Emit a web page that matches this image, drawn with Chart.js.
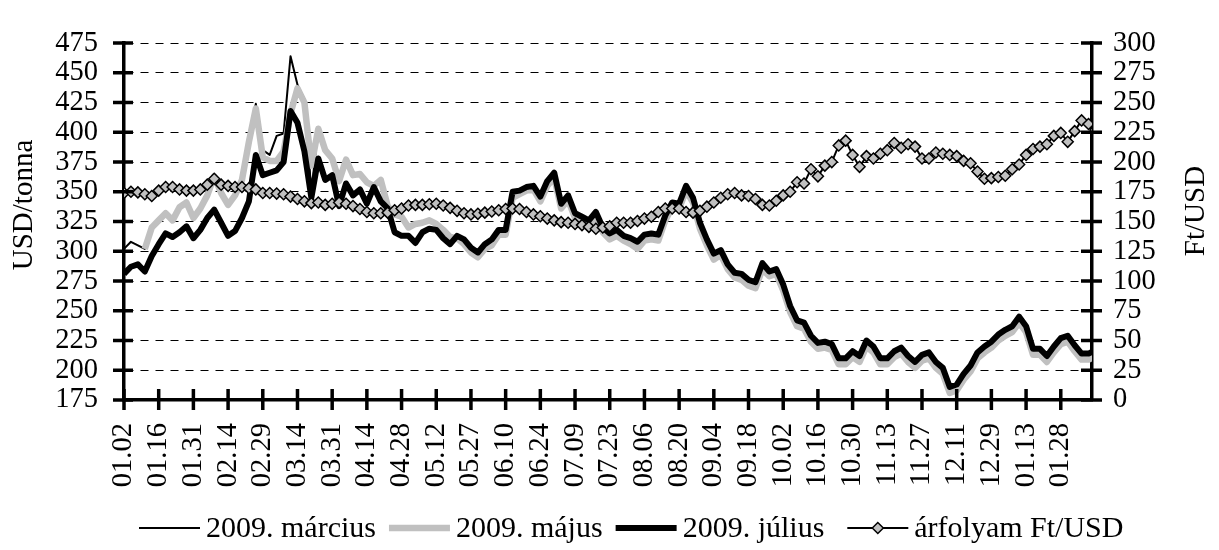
<!DOCTYPE html>
<html>
<head>
<meta charset="utf-8">
<script src="https://cdn.jsdelivr.net/npm/chart.js@4.4.1/dist/chart.umd.min.js"></script>
<style>
html,body{margin:0;padding:0;background:#fff;}
canvas{display:block;}
</style>
</head>
<body>
<canvas id="c" width="1219" height="550"></canvas>
<script>
// ---- data (one value every 2nd trading day, 2008-01-02 .. 2009-02) ----
const tickLabels = ['01.02','01.16','01.31','02.14','02.29','03.14','03.31','04.14','04.28','05.12',
  '05.27','06.10','06.24','07.09','07.23','08.06','08.20','09.04','09.18','10.02',
  '10.16','10.30','11.13','11.27','12.11','12.29','01.13','01.28'];
const labelEvery = 10; // trading days between tick labels
const sampleStep = 2;  // trading days between stored values
const seriesNames = ['2009. március','2009. május','2009. július','árfolyam Ft/USD'];

const marcius = [
  302,308,305,302,320,326,332,326,337,341,
  328,336,347,363,349,339,347,360,392,424,
  385,381,397,399,464,440,428,350,404,386,
  378,359,377,364,365,358,355,360,338,331,
  329,320,323,324,326,323,318,312,313,310,
  303,299,306,310,318,318,350,351,354,355,
  346,359,366,340,347,332,329,326,333,320,
  315,318,313,311,308,314,315,314,330,341,
  340,355,345,324,310,298,301,289,282,281,
  276,274,290,283,285,272,254,242,240,229,
  223,224,222,210,210,216,212,225,220,210,
  210,216,219,212,207,213,215,207,202,186,
  188,197,204,215,220,224,230,234,237,245,
  237,218,218,212,220,227,229,221,214,214,
  217];

const majus = [
  null,null,null,302,320,326,332,326,337,341,
  328,336,347,363,349,339,347,360,392,420,
  379,376,376,384,416,437,425,372,403,385,
  378,359,377,364,365,358,355,360,338,331,
  329,320,323,324,326,323,318,312,311,306,
  299,295,302,305,314,314,345,348,351,352,
  342,355,362,336,343,328,325,322,329,316,
  310,313,309,306,302,309,310,309,326,337,
  336,351,341,319,305,293,297,285,278,276,
  271,269,285,279,281,267,249,237,235,224,
  218,219,217,205,205,211,207,220,215,205,
  205,211,214,207,202,208,210,202,197,181,
  183,192,199,210,215,219,225,229,232,240,
  232,213,213,207,215,222,224,216,209,209,
  212];

const julius = [
  281,287,289,283,296,306,315,312,316,321,
  311,318,328,335,324,313,317,328,342,381,
  364,366,368,375,418,408,384,345,378,360,
  364,338,357,347,352,340,354,342,336,316,
  313,313,307,316,319,318,311,306,313,310,
  303,299,306,310,318,318,350,351,354,355,
  346,359,366,340,347,332,329,326,333,320,
  315,318,313,311,308,314,315,314,330,341,
  340,355,345,324,310,298,301,289,282,281,
  276,274,290,283,285,272,254,242,240,229,
  223,224,222,210,210,216,212,225,220,210,
  210,216,219,212,207,213,215,207,202,186,
  188,197,204,215,220,224,230,234,237,245,
  237,218,218,212,220,227,229,221,214,214,
  217];

const arfolyam = [
  174,175,174.5,173,171.5,176,179,179,177,176,
  176,177,181,186,181,180,179,179,178,177,
  174,174,173.5,173,171,169,167,165.5,166,164,
  165,166,165,163,160.5,158,157,157,157.5,159.5,
  161,163.5,164,164,164.5,165,163.5,161.5,159,157,
  156,156.5,157.5,158.5,159.5,160.5,161,160.5,158,156,
  154.5,152.5,151,149.5,149,148,147,145.5,144,145,
  146,149,149,149,150.5,152.5,154,158,161,161,
  161,158,157.5,159,162.5,166,170,173,174,172,
  171.5,169,164,163.5,167.5,172,175,183,182,194,
  188,197,200,214,218,206,196,205,203,207,
  210,216,212,215,213,203,203,208,207,206,
  205,201,199,192,186,186.5,187.5,188.5,194,198,
  206,211,213,215,222,224.5,217,226,235,232,
  227];

const usdTicks = {min:175, max:475, step:25};
const ftTicks = {min:0, max:300, step:25};
const lastDay = 279;

// ---- chart ----
const FONT = '"Liberation Serif", "Times New Roman", serif';
Chart.defaults.font.family = FONT;
Chart.defaults.color = '#000';

const toPts = arr => arr.map((v, i) => ({x: i * sampleStep, y: v}));

const crossTicks = {
  id: 'crossTicks',
  afterDraw(chart) {
    const ctx = chart.ctx;
    const {x, y, y1} = chart.scales;
    ctx.save();
    ctx.strokeStyle = '#000';
    ctx.lineWidth = 3.5;
    ctx.beginPath();
    x.ticks.forEach(t => {
      if (t.value >= x.max) return;
      const px = x.getPixelForValue(t.value);
      ctx.moveTo(px, x.top - 11); ctx.lineTo(px, x.top + 10);
    });
    y.ticks.forEach(t => {
      const py = y.getPixelForValue(t.value);
      ctx.moveTo(y.right - 11, py); ctx.lineTo(y.right + 9, py);
    });
    y1.ticks.forEach(t => {
      const py = y1.getPixelForValue(t.value);
      ctx.moveTo(y1.left - 11, py); ctx.lineTo(y1.left + 10, py);
    });
    ctx.stroke();

    // axis titles
    ctx.fillStyle = '#000';
    ctx.font = '29px ' + FONT;
    ctx.textAlign = 'center';
    ctx.textBaseline = 'middle';
    ctx.save();
    ctx.translate(24, 205);
    ctx.rotate(-Math.PI / 2);
    ctx.fillText('USD/tonna', 0, 0);
    ctx.restore();
    ctx.save();
    ctx.translate(1196, 211);
    ctx.rotate(-Math.PI / 2);
    ctx.fillText('Ft/USD', 0, 0);
    ctx.restore();

    // legend
    ctx.font = '30px ' + FONT;
    ctx.textAlign = 'left';
    const sampleW = 61, gapText = 6, gaps = [13, 13, 23], ly = 528;
    let lx = 139;
    chart.data.datasets.forEach((ds, i) => {
      ctx.save();
      ctx.strokeStyle = ds.borderColor;
      ctx.lineWidth = ds.borderWidth;
      ctx.lineCap = 'butt';
      ctx.beginPath();
      ctx.moveTo(lx, ly); ctx.lineTo(lx + sampleW, ly);
      ctx.stroke();
      if (ds.pointRadius > 0) {
        const cx = lx + sampleW / 2, r = ds.pointRadius;
        ctx.beginPath();
        ctx.moveTo(cx - r, ly); ctx.lineTo(cx, ly - r); ctx.lineTo(cx + r, ly); ctx.lineTo(cx, ly + r); ctx.closePath();
        ctx.fillStyle = ds.pointBackgroundColor; ctx.fill();
        ctx.lineWidth = ds.pointBorderWidth; ctx.strokeStyle = ds.pointBorderColor; ctx.stroke();
      }
      ctx.restore();
      ctx.fillText(seriesNames[i], lx + sampleW + gapText, ly + 1);
      lx += sampleW + gapText + ctx.measureText(seriesNames[i]).width + (gaps[i] || 0);
    });
    ctx.restore();
  }
};

new Chart(document.getElementById('c'), {
  type: 'line',
  data: {
    datasets: [
      {label: seriesNames[0], data: toPts(marcius), borderColor: '#000', borderWidth: 2, pointRadius: 0, yAxisID: 'y', order: 4, borderJoinStyle: 'round'},
      {label: seriesNames[1], data: toPts(majus), borderColor: '#c0c0c0', borderWidth: 6.5, pointRadius: 0, yAxisID: 'y', order: 3, borderJoinStyle: 'round'},
      {label: seriesNames[2], data: toPts(julius), borderColor: '#000', borderWidth: 6, pointRadius: 0, yAxisID: 'y', order: 2, borderJoinStyle: 'round'},
      {label: seriesNames[3], data: toPts(arfolyam), borderColor: '#000', borderWidth: 2, pointRadius: 5.5, pointStyle: 'rectRot',
        pointBackgroundColor: '#c0c0c0', pointBorderColor: '#000', pointBorderWidth: 1.5, yAxisID: 'y1', order: 1}
    ]
  },
  options: {
    responsive: false,
    animation: false,
    devicePixelRatio: 1,
    events: [],
    layout: {padding: {top: 22, left: 0, right: 0, bottom: 0}},
    plugins: {legend: {display: false}, tooltip: {enabled: false}},
    scales: {
      x: {
        type: 'linear', min: 0, max: lastDay,
        grid: {display: false, drawTicks: false},
        border: {display: true, color: '#000', width: 3.5},
        ticks: {autoSkip: false, minRotation: 90, maxRotation: 90, padding: 23,
          font: {size: 28.5}, color: '#000',
          callback: v => tickLabels[Math.round(v / labelEvery)] || ''},
        afterBuildTicks: s => { s.ticks = tickLabels.map((_, i) => ({value: i * labelEvery})); },
        afterFit: s => { s.height = 150; }
      },
      y: {
        type: 'linear', position: 'left', min: usdTicks.min, max: usdTicks.max,
        grid: {color: '#000', lineWidth: 1, drawTicks: false},
        border: {display: true, color: '#000', width: 3.5, dash: [8, 7]},
        ticks: {stepSize: usdTicks.step, autoSkip: false, padding: 26, font: {size: 28.5}, color: '#000'},
        afterFit: s => { s.width = 124; }
      },
      y1: {
        type: 'linear', position: 'right', min: ftTicks.min, max: ftTicks.max,
        grid: {display: false, drawTicks: false},
        border: {display: true, color: '#000', width: 3.5},
        ticks: {stepSize: ftTicks.step, autoSkip: false, padding: 21, font: {size: 28.5}, color: '#000'},
        afterFit: s => { s.width = 127; }
      }
    }
  },
  plugins: [crossTicks]
});
</script>
</body>
</html>
